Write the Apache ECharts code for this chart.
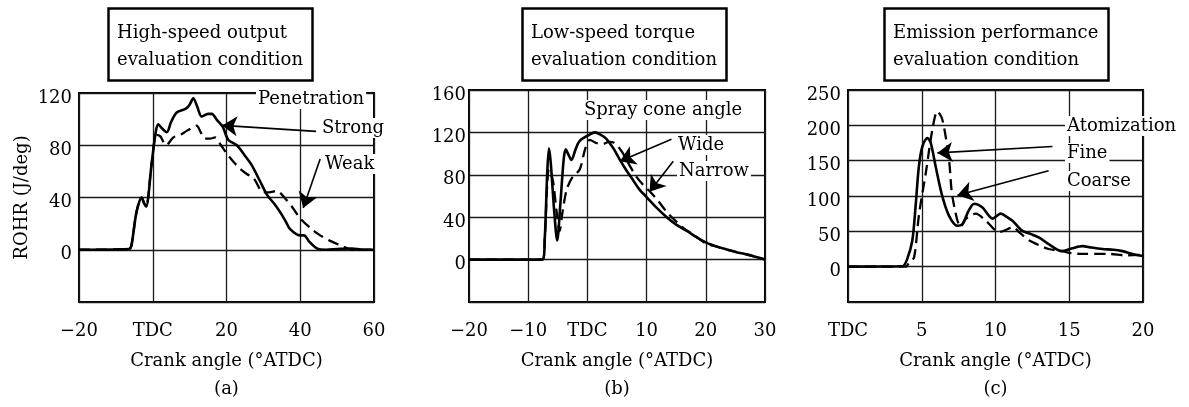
<!DOCTYPE html>
<html>
<head>
<meta charset="utf-8">
<script src="https://cdn.jsdelivr.net/npm/echarts@6/dist/echarts.min.js"></script>
<style>
  html, body { margin: 0; padding: 0; background: #fff; }
  #main { width: 1189px; height: 407px; }
</style>
</head>
<body>
<div id="main"></div>
<script>
// (a) high-speed output, penetration strong / weak
var aStrong = [
    [-20, 0], [-6.5, 0.5], [-5.8, 3], [-4.4, 29], [-3, 40], [-2.4, 36], [-1.8, 33],
    [-0.3, 66], [0.8, 90], [1.5, 96], [2.5, 93], [3.8, 90], [5, 98], [6.5, 105],
    [9, 108], [10, 111], [11, 116], [12, 110], [13.3, 102], [15, 104], [16, 104],
    [17.5, 99], [19, 94], [20.5, 84], [22.8, 80], [25, 72], [26.8, 65], [29, 53],
    [31, 42], [33, 35], [34.5, 29], [36, 22], [37.2, 16], [39.9, 11], [41, 11],
    [42.5, 6], [44.5, 1], [47, 0], [50, 0.5], [54, 1], [57, 0], [60, 0]
];
var aWeak = [
    [-20, 0], [-6.5, 0.5], [-5.8, 3], [-4.4, 29], [-3, 40], [-2.4, 36], [-1.8, 33],
    [-0.3, 66], [1, 88], [2, 87], [3, 82], [3.6, 80], [5.6, 86], [7.5, 88],
    [9.2, 91], [10.5, 93], [11.9, 95], [13, 90], [14.2, 85], [15.5, 85], [16.9, 86],
    [18.5, 80], [20, 74], [22, 67], [23.7, 62], [25.5, 58], [27.3, 55], [30, 44],
    [31.5, 44], [33.6, 45], [36.3, 38], [38, 32], [40, 24], [43, 16], [45.4, 11],
    [48, 7], [50.8, 3.5], [54.4, 0], [60, 0]
];
// (b) low-speed torque, spray cone angle wide / narrow
var bWide = [
    [-20, 0], [-7.6, 0], [-7.2, 20], [-6.8, 80], [-6.5, 105], [-6.2, 92], [-5.6, 45],
    [-5.1, 18], [-4.6, 50], [-4.0, 95], [-3.65, 104], [-3.2, 99], [-2.7, 94], [-2, 104],
    [-1.3, 112], [0.4, 118], [1.25, 120], [2.2, 118], [3.2, 114], [4.5, 104], [5.5, 94],
    [6.6, 84], [7.7, 75], [8.8, 66], [10, 59], [11.5, 50], [13.4, 40], [15, 33],
    [16.8, 27], [18.5, 21], [20.1, 16], [22, 12], [23.5, 9.6], [25.2, 7], [26.9, 5],
    [28.5, 2.5], [30, 0]
];
var bNarrow = [
    [-20, 0], [-7.6, 0], [-7.2, 20], [-6.8, 70], [-6.5, 85], [-6.1, 80], [-5.75, 72],
    [-5.2, 45], [-4.7, 27], [-4.2, 45], [-3.5, 66], [-2.5, 78], [-1.3, 85], [-0.4, 104],
    [0.4, 113], [1.5, 110], [2.6, 109], [3.6, 111], [4.6, 110], [5.8, 102], [7, 90],
    [8.3, 78], [9.5, 70], [10.6, 64], [12, 55], [13.4, 45], [14.8, 37], [16.2, 30],
    [18, 23], [20.1, 15], [22, 12], [23.5, 9.5], [25.2, 7], [26.9, 4.8], [28.5, 2.5],
    [30, 0]
];
// (c) emission performance, atomization fine / coarse
var cFine = [
    [0, 0], [3.68, 0.5], [4.0, 10], [4.36, 37], [4.6, 90], [4.8, 141], [5.04, 170],
    [5.38, 182], [5.6, 176], [5.95, 141], [6.4, 99], [6.85, 72], [7.4, 58], [7.75, 60],
    [8.2, 80], [8.55, 89], [9.1, 84], [9.8, 68], [10.36, 75], [10.8, 70], [11.15, 65],
    [11.8, 51], [12.4, 46], [12.96, 41], [13.6, 32], [14.5, 22], [15.2, 26], [15.9, 29],
    [16.5, 27], [17.25, 25], [18, 24], [18.6, 22], [19.3, 18], [20, 15]
];
var cCoarse = [
    [0, 0], [3.9, 0], [4.2, 8], [4.48, 13], [4.82, 75], [5.27, 132], [5.72, 194],
    [6.06, 220], [6.4, 208], [6.85, 151], [7.08, 99], [7.65, 56], [8.0, 68], [8.66, 75],
    [9.34, 65], [10.24, 49], [10.7, 52], [11.15, 56], [11.7, 47], [12.3, 37], [13, 30],
    [13.6, 25], [14.5, 22], [15.2, 19], [15.9, 18], [17.7, 18], [18.8, 16], [20, 17]
];

// arrows: [fromX, fromY, toX, toY] in data units
var arrowsA = [[44.3, 90.6, 18.8, 95.2], [45.4, 69.4, 40.8, 32]];
var arrowsB = [[14.2, 113.6, 5.5, 92.7], [14.5, 92.7, 10.5, 64]];
var arrowsC = [[13.86, 170, 6.06, 161], [13.6, 135.7, 7.42, 101]];

var titles = [
    'High-speed output\nevaluation condition',
    'Low-speed torque\nevaluation condition',
    'Emission performance\nevaluation condition'
];
var panelTags = ['(a)', '(b)', '(c)'];
var xName = 'Crank angle (\u00b0ATDC)';
var yName = 'ROHR (J/deg)';

var FONT = 'DejaVu Serif';
var chart = echarts.init(document.getElementById('main'));

function xLabel(v) {
    if (v === 0) return 'TDC';
    if (v < 0) return '\u2212' + (-v);
    return '' + v;
}
function yLabel(v) {
    return v < 0 ? '' : '' + v;
}

function makeX(idx, min, max, interval, tag) {
    return {
        gridIndex: idx, type: 'value', min: min, max: max, interval: interval,
        axisLine: {show: false}, axisTick: {show: false},
        splitLine: {show: true, lineStyle: {color: '#1a1a1a', width: 1.3}},
        axisLabel: {formatter: xLabel, fontFamily: FONT, fontSize: 18, color: '#000', margin: 20},
        name: xName + '\n' + tag, nameLocation: 'middle', nameGap: 45,
        nameTextStyle: {fontFamily: FONT, fontSize: 18, color: '#000', lineHeight: 28}
    };
}
function makeY(idx, min, max, interval, margin, name) {
    var ax = {
        gridIndex: idx, type: 'value', min: min, max: max, interval: interval,
        axisLine: {show: false}, axisTick: {show: false},
        splitLine: {show: true, lineStyle: {color: '#1a1a1a', width: 1.3}},
        axisLabel: {formatter: yLabel, fontFamily: FONT, fontSize: 18, color: '#000',
                    margin: margin, verticalAlign: 'top', lineHeight: 10}
    };
    if (name) {
        ax.name = name;
        ax.nameLocation = 'middle';
        ax.nameGap = 48;
        ax.nameTextStyle = {fontFamily: FONT, fontSize: 18, color: '#000'};
    }
    return ax;
}
function arrowLine(list) {
    return {
        silent: true, animation: false,
        symbol: ['none', 'arrow'], symbolSize: 15,
        label: {show: false},
        lineStyle: {color: '#000', width: 1.6, type: 'solid'},
        data: list.map(function (a) {
            return [{coord: [a[0], a[1]], symbol: 'none'}, {coord: [a[2], a[3]], symbol: 'arrow'}];
        })
    };
}
function curve(idx, data, dashed, arrows) {
    var s = {
        type: 'line', xAxisIndex: idx, yAxisIndex: idx, data: data,
        symbol: 'none', showSymbol: false, smooth: 0.3,
        lineStyle: {color: '#000', width: dashed ? 2.3 : 2.6, type: dashed ? [11, 6] : 'solid'},
        z: dashed ? 3 : 4
    };
    if (arrows) s.markLine = arrowLine(arrows);
    return s;
}
function titleBox(text, left) {
    return {
        text: text, left: left, top: 8,
        borderColor: '#000', borderWidth: 2.5,
        padding: [12, 10, 7, 9],
        textStyle: {fontFamily: FONT, fontSize: 18, fontWeight: 'normal', color: '#000', lineHeight: 27}
    };
}
function note(text, x, y) {
    return {
        type: 'text', x: x, y: y, z: 100,
        style: {
            text: text, fill: '#000', font: '18px "' + FONT + '"',
            verticalAlign: 'middle', backgroundColor: '#fff', padding: [1, 2]
        }
    };
}
function makeGrid(left, top, width, height) {
    return {
        left: left, top: top, width: width, height: height,
        show: true, borderColor: '#000', borderWidth: 2,
        containLabel: false, outerBoundsMode: 'none'
    };
}

var option = {
    animation: false,
    backgroundColor: '#fff',
    title: [
        titleBox(titles[0], 108),
        titleBox(titles[1], 522),
        titleBox(titles[2], 884)
    ],
    grid: [
        makeGrid(79, 93, 295, 209),
        makeGrid(469, 90, 296, 212),
        makeGrid(848, 90, 295, 212)
    ],
    xAxis: [
        makeX(0, -20, 60, 20, panelTags[0]),
        makeX(1, -20, 30, 10, panelTags[1]),
        makeX(2, 0, 20, 5, panelTags[2])
    ],
    yAxis: [
        makeY(0, -40, 120, 40, 7, yName),
        makeY(1, -40, 160, 40, 3),
        makeY(2, -50, 250, 50, 7)
    ],
    series: [
        curve(0, aStrong, false, arrowsA),
        curve(0, aWeak, true),
        curve(1, bWide, false, arrowsB),
        curve(1, bNarrow, true),
        curve(2, cFine, false, arrowsC),
        curve(2, cCoarse, true)
    ],
    graphic: [
        note('Penetration', 256, 99),
        note('Strong', 320, 128),
        note('Weak', 323, 164),
        note('Spray cone angle', 582, 110),
        note('Wide', 676, 145),
        note('Narrow', 677, 171),
        note('Atomization', 1065, 126),
        note('Fine', 1065, 153),
        note('Coarse', 1065, 181)
    ]
};

chart.setOption(option);
</script>
</body>
</html>
